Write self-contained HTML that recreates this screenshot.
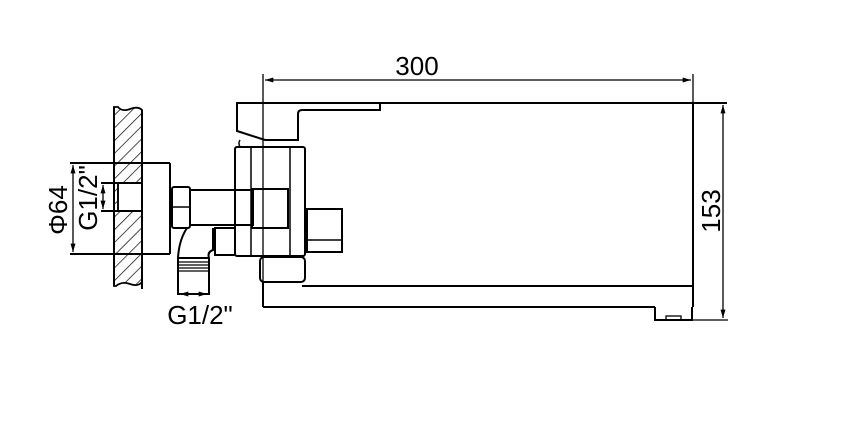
<!DOCTYPE html>
<html><head><meta charset="utf-8"><style>
html,body{margin:0;padding:0;background:#fff;}
svg{display:block;}
text{font-family:"Liberation Sans",sans-serif;fill:#000;}
</style></head><body>
<svg width="853" height="423" viewBox="0 0 853 423" xmlns="http://www.w3.org/2000/svg">
<defs>
<pattern id="hatch" patternUnits="userSpaceOnUse" width="9" height="9" patternTransform="rotate(45)">
<line x1="0" y1="0" x2="0" y2="9" stroke="#000" stroke-width="1.4"/>
</pattern>
<marker id="arr" viewBox="0 0 10 6" refX="10" refY="3" markerWidth="10" markerHeight="5" orient="auto-start-reverse" markerUnits="userSpaceOnUse">
<path d="M0,0 L10,3 L0,6 z" fill="#000"/>
</marker>
</defs>
<g fill="none" stroke="#000" stroke-width="2">
<g>
<path d="M118,107 Q122,112 130,109 Q138,106 142,110 L142,183 L118,183 L118,211 L142,211 L142,282 Q138,287 130,284 Q122,281 116,286 L114,286 L114,107 Z" fill="url(#hatch)" stroke-width="1.8"/>
<line x1="114" y1="107" x2="114" y2="286"/>
<line x1="142" y1="110" x2="142" y2="289"/>
</g>
<g>
<line x1="101" y1="183" x2="142" y2="183"/>
<line x1="101" y1="211" x2="142" y2="211"/>
<line x1="118" y1="183" x2="118" y2="211" stroke-width="1.5"/>
</g>
<g>
<line x1="70" y1="163" x2="170" y2="163"/>
<line x1="70" y1="254" x2="170" y2="254"/>
<line x1="170" y1="163" x2="170" y2="254"/>
</g>
<line x1="73" y1="165" x2="73" y2="252" stroke-width="1.3" marker-start="url(#arr)" marker-end="url(#arr)"/>
<line x1="103" y1="185" x2="103" y2="209" stroke-width="1.3" marker-start="url(#arr)" marker-end="url(#arr)"/>
<g>
<rect x="172" y="187" width="18" height="41" rx="2"/>
<line x1="172" y1="207" x2="190" y2="207" stroke-width="1.5"/>
</g>
<rect x="190" y="190" width="63" height="35"/>
<g>
<path d="M187,228 Q179,240 178,258"/>
<path d="M213,228 L213,250 Q207,252 209,258"/>
<rect x="178" y="258" width="31" height="36"/>
<g stroke-width="1.3">
<line x1="178" y1="262" x2="209" y2="262"/>
<line x1="178" y1="265" x2="209" y2="265"/>
<line x1="178" y1="268" x2="209" y2="268"/>
<line x1="178" y1="271" x2="209" y2="271"/>
</g>
</g>
<line x1="180" y1="294" x2="207" y2="294" stroke-width="1.3" marker-start="url(#arr)" marker-end="url(#arr)"/>
<rect x="215" y="228" width="20" height="27"/>
<path d="M380,103 L237,103 L237,131 L265,140 L298,140 L298,114 Q298,110 302,110 L380,110 Z"/>
<path d="M240,140 Q238,143 240,147" stroke-width="1.5"/>
<g>
<rect x="235" y="147" width="70" height="109" rx="2"/>
<line x1="251" y1="147" x2="251" y2="256" stroke-width="1.5"/>
<line x1="290" y1="147" x2="290" y2="256" stroke-width="1.5"/>
<rect x="252" y="189" width="36" height="39"/>
</g>
<g>
<rect x="307" y="209" width="35" height="43"/>
<line x1="307" y1="240" x2="342" y2="240" stroke-width="1.5"/>
</g>
<rect x="260" y="257" width="45" height="25" rx="4"/>
<g>
<line x1="237" y1="103" x2="727" y2="103"/>
<line x1="693" y1="103" x2="693" y2="307"/>
<line x1="302" y1="286" x2="693" y2="286"/>
<line x1="263" y1="307" x2="655" y2="307"/>
<line x1="263" y1="282" x2="263" y2="307"/>
<path d="M655,307 L655,320 L692,320 L692,307"/>
<rect x="666" y="316" width="15" height="4" stroke-width="1.3"/>
</g>
<g stroke-width="1.3">
<line x1="263" y1="74" x2="263" y2="282"/>
<line x1="693" y1="74" x2="693" y2="103"/>
<line x1="265" y1="80" x2="691" y2="80" marker-start="url(#arr)" marker-end="url(#arr)"/>
<line x1="692" y1="320" x2="728" y2="320"/>
<line x1="723" y1="105" x2="723" y2="318" marker-start="url(#arr)" marker-end="url(#arr)"/>
</g>
</g>
<text x="417" y="75" font-size="26" text-anchor="middle">300</text>
<text transform="translate(720,211) rotate(-90)" font-size="26" text-anchor="middle">153</text>
<text transform="translate(67,210) rotate(-90)" font-size="26" text-anchor="middle">Φ64</text>
<text transform="translate(97,198) rotate(-90)" font-size="26" text-anchor="middle">G1/2"</text>
<text x="200" y="324" font-size="26" text-anchor="middle">G1/2"</text>
</svg>
</body></html>
